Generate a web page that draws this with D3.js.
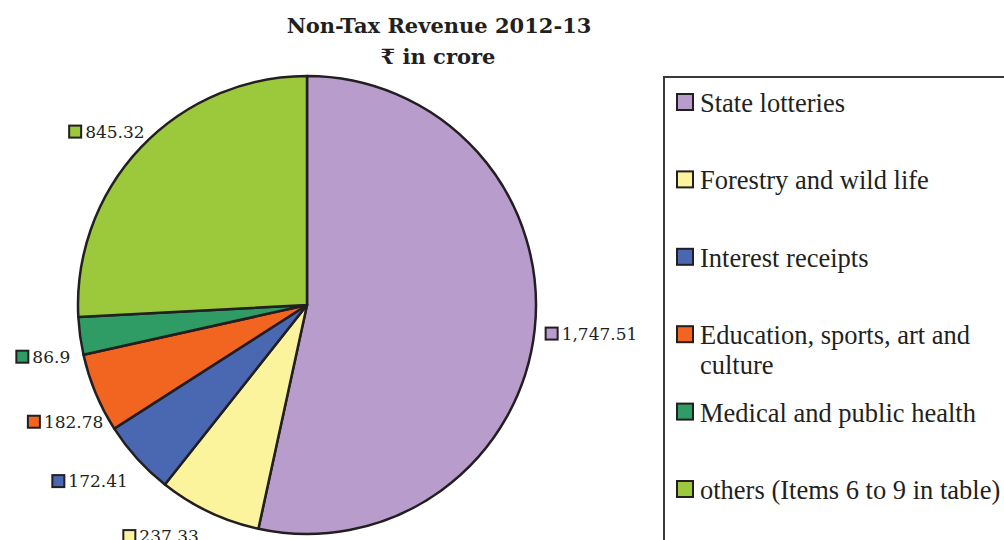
<!DOCTYPE html>
<html lang="en">
<head>
<meta charset="UTF-8">
<title>Non-Tax Revenue 2012-13</title>
<script src="https://d3js.org/d3.v7.min.js"></script>
<style>
  html, body { margin: 0; padding: 0; background: #fff; }
  svg { display: block; }
</style>
</head>
<body>
<svg id="chart" width="1004" height="540"></svg>
<script>
// data (Rs crore)
const categories = ["State lotteries", "Forestry and wild life", "Interest receipts",
                    "Education, sports, art and culture", "Medical and public health",
                    "others (Items 6 to 9 in table)"];
const values = [1747.51, 237.33, 172.41, 182.78, 86.9, 845.32];
const valueLabels = ["1,747.51", "237.33", "172.41", "182.78", "86.9", "845.32"];
const colors = ["#b89ccb", "#fbf49d", "#4a67b1", "#f26521", "#2f9c65", "#9bc93b"];

// label nudges (excel "best fit" pushes some labels off the simple radial spot)
const labelNudge = [[0, 2], [-6, 6], [-2, 9], [17, 21], [0, 18], [11, -2]];

const svg = d3.select("#chart");
const cx = 307, cy = 305, r = 229;
const ink = "#231f20";

// title
const title = svg.append("text")
    .attr("text-anchor", "middle")
    .style("font-family", "'DejaVu Serif', 'Noto Sans', serif")
    .style("font-weight", "bold")
    .style("font-size", "21px")
    .style("fill", "#231f20");
title.append("tspan").attr("x", 439).attr("y", 33).text("Non-Tax Revenue 2012-13");
title.append("tspan").attr("x", 438).attr("y", 64).text("\u20B9 in crore");

// pie
const pie = d3.pie().sort(null).value(d => d.v);
const arcs = pie(values.map((v, i) => ({v: v, i: i})));
const arc = d3.arc().innerRadius(0).outerRadius(r);

const g = svg.append("g").attr("transform", `translate(${cx},${cy})`);
g.selectAll("path")
    .data(arcs)
    .enter().append("path")
    .attr("d", arc)
    .style("fill", d => colors[d.data.i])
    .style("stroke", ink)
    .style("stroke-width", 2.5)
    .style("stroke-linejoin", "round");

// data labels
const sw = 12, lblH = 20, gap = 5;
arcs.forEach(function(d) {
    const i = d.data.i;
    const a = (d.startAngle + d.endAngle) / 2;
    const ax = cx + (r + 10) * Math.sin(a);
    const ay = cy - (r + 10) * Math.cos(a);
    const lab = svg.append("g");
    const t = lab.append("text")
        .attr("x", sw + gap)
        .attr("y", 6)
        .style("font-family", "'DejaVu Serif', serif")
        .style("font-size", "17px")
        .style("fill", "#231f20")
        .text(valueLabels[i]);
    lab.insert("rect", "text")
        .attr("x", 1).attr("y", -sw / 2)
        .attr("width", sw).attr("height", sw)
        .style("fill", colors[i])
        .style("stroke", ink)
        .style("stroke-width", 2);
    const w = sw + gap + t.node().getComputedTextLength();
    const left = Math.sin(a) >= 0 ? ax : ax - w;
    const midY = ay - Math.cos(a) * lblH / 2;
    lab.attr("transform", `translate(${left + labelNudge[i][0]},${midY + labelNudge[i][1]})`);
});

// legend
const legX = 664, legY = 77, rowStep = 77.4;
svg.append("rect")
    .attr("x", legX).attr("y", legY)
    .attr("width", 400).attr("height", 500)
    .style("fill", "none")
    .style("stroke", "#3a3a3a")
    .style("stroke-width", 2);

const legend = svg.append("g");
categories.forEach(function(name, i) {
    const y = 103 + i * rowStep;
    legend.append("rect")
        .attr("x", 677).attr("y", y - 9)
        .attr("width", 16).attr("height", 16)
        .style("fill", colors[i])
        .style("stroke", ink)
        .style("stroke-width", 2);
    const txt = legend.append("text")
        .attr("x", 700).attr("y", y + 9)
        .style("font-family", "'Liberation Serif', 'Times New Roman', serif")
        .style("font-size", "26.5px")
        .style("fill", "#231f20");
    // the long education label wraps to a second line in the original
    if (name.length > 32) {
        txt.append("tspan").attr("x", 700).text("Education, sports, art and");
        txt.append("tspan").attr("x", 700).attr("dy", 30).text("culture");
    } else {
        txt.text(name);
    }
});
</script>
</body>
</html>
